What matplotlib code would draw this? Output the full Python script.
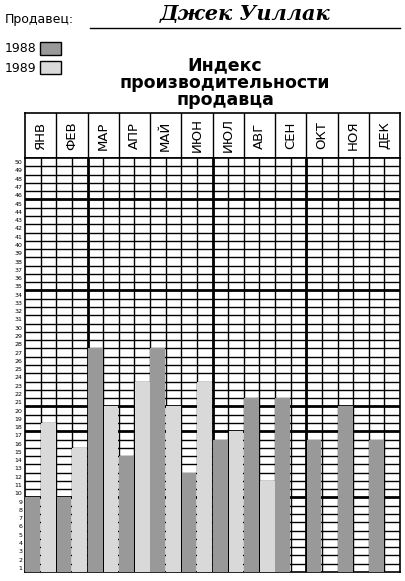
import matplotlib.pyplot as plt
from matplotlib.patches import Rectangle

months = ['ЯНВ', 'ФЕВ', 'МАР', 'АПР', 'МАЙ', 'ИЮН', 'ИЮЛ', 'АВГ', 'СЕН', 'ОКТ', 'НОЯ', 'ДЕК']
sales_1988 = [9, 9, 27, 14, 27, 12, 16, 21, 21, 16, 20, 16]
sales_1989 = [18, 15, 20, 23, 20, 23, 17, 11, 0, 0, 0, 0]
thick_rows = [9, 17, 20, 34, 45]
thick_cols = [4, 12, 18]

c88 = '#999999'
c89 = '#d9d9d9'

W, H = 405, 581
fig = plt.figure(figsize=(W / 100, H / 100), dpi=100)

def px_axes(x0, y0, x1, y1):
    return fig.add_axes([x0 / W, 1 - y1 / H, (x1 - x0) / W, (y1 - y0) / H])

# header text
fig.text(5 / W, 1 - 20 / H, 'Продавец:', fontsize=9, va='center', ha='left')
fig.add_artist(plt.Line2D([90 / W, 400 / W], [1 - 28 / H, 1 - 28 / H], color='black', lw=1))
fig.text(245 / W, 1 - 14 / H, 'Джек Уиллак', fontsize=15, va='center', ha='center',
         family='DejaVu Serif', style='italic', weight='bold')
fig.text(5 / W, 1 - 49 / H, '1988', fontsize=9, va='center')
fig.text(5 / W, 1 - 68 / H, '1989', fontsize=9, va='center')
fig.add_artist(Rectangle((40 / W, 1 - 55 / H), 21 / W, 13 / H, transform=fig.transFigure,
                         fc=c88, ec='black', lw=1))
fig.add_artist(Rectangle((40 / W, 1 - 74 / H), 21 / W, 13 / H, transform=fig.transFigure,
                         fc=c89, ec='black', lw=1))
fig.text(225 / W, 1 - 83 / H, 'Индекс\nпроизводительности\nпродавца', fontsize=12.5,
         weight='bold', ha='center', va='center', linespacing=0.95)

# month header
hx = px_axes(25, 113, 400, 158)
hx.set_xlim(0, 12)
hx.set_ylim(0, 1)
for i, m in enumerate(months):
    hx.text(i + 0.5, 0.5, m, rotation=90, ha='center', va='center', fontsize=9.5)
for i in range(1, 12):
    hx.axvline(i, color='black', lw=1)
hx.set_xticks([])
hx.set_yticks([])
for s in hx.spines.values():
    s.set_linewidth(1.2)

# grid with bars
ax = px_axes(25, 158, 400, 572)
ax.set_xlim(0, 24)
ax.set_ylim(0, 50)
x88 = [2 * i + 0.5 for i in range(12)]
x89 = [2 * i + 1.5 for i in range(12)]
ax.bar(x88, sales_1988, width=0.95, color=c88, zorder=3)
ax.bar(x89, sales_1989, width=0.95, color=c89, zorder=3)
for y in range(1, 50):
    ax.axhline(y, color='black', lw=2 if y in thick_rows else 1, zorder=1)
for x in range(1, 24):
    ax.axvline(x, color='black', lw=2 if x in thick_cols else 1, zorder=1)
ax.set_xticks([])
ax.set_yticks([k - 0.5 for k in range(1, 51)])
ax.set_yticklabels([str(k) for k in range(1, 51)], fontsize=4.5)
ax.tick_params(axis='y', length=0, pad=2)
for s in ax.spines.values():
    s.set_linewidth(1.2)

fig.savefig('out.png', dpi=100)
